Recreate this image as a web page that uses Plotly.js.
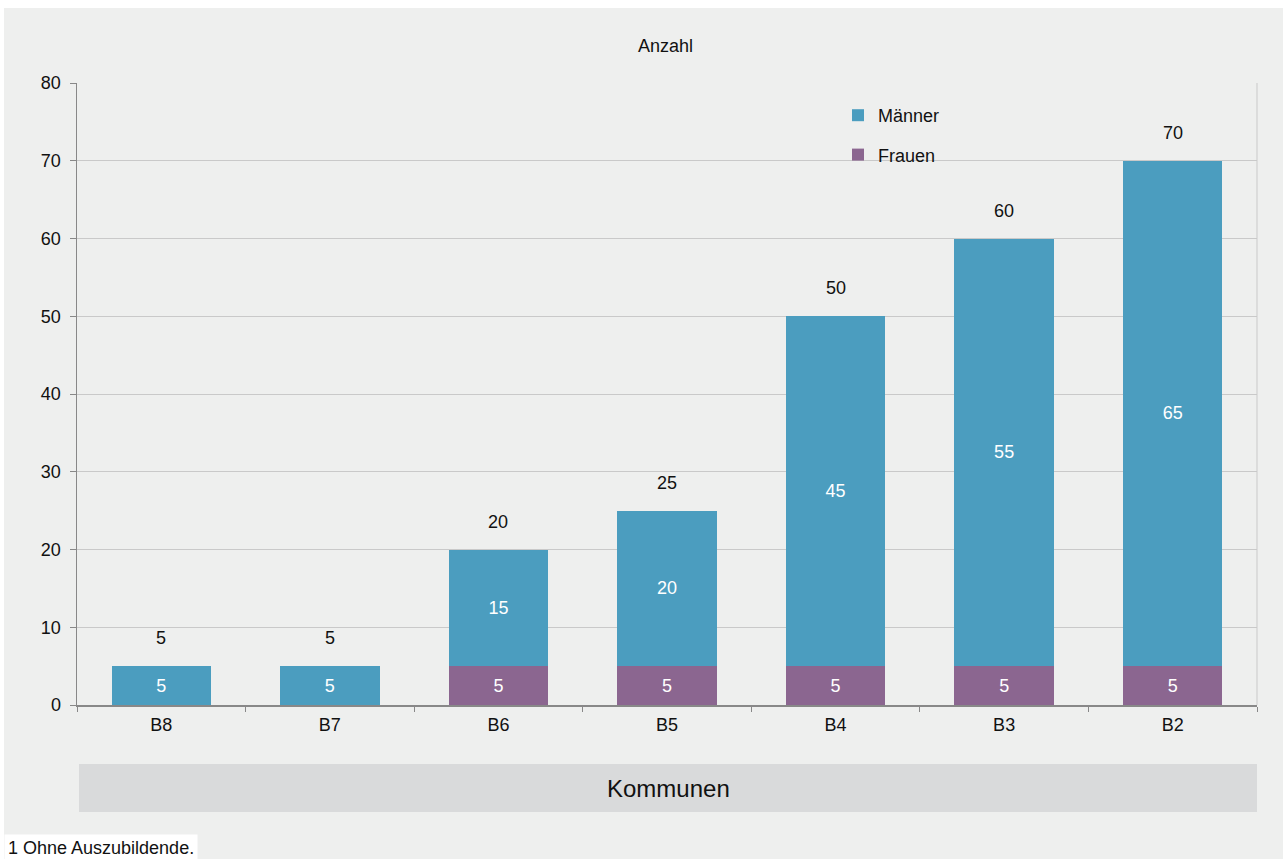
<!DOCTYPE html>
<html>
<head>
<meta charset="utf-8">
<script src="https://cdn.plot.ly/plotly-3.0.1.min.js"></script>
<style>html,body{margin:0;padding:0;background:#fff;}</style>
</head>
<body>
<div id="chart" style="width:1283px;height:859px;"></div>
<script>
const categories = ["B8", "B7", "B6", "B5", "B4", "B3", "B2"];
const frauen = [0, 0, 5, 5, 5, 5, 5];
const maenner = [5, 5, 15, 20, 45, 55, 65];
const yTicks = [0, 10, 20, 30, 40, 50, 60, 70, 80];

const totals = categories.map((c, i) => frauen[i] + maenner[i]);
const BG = '#eeefee';
const FONT = 'Liberation Sans, Arial, sans-serif';

const traces = [
  {
    type: 'bar', name: 'Frauen', x: categories, y: frauen,
    marker: {color: '#8b6690', line: {width: 0}},
    text: frauen.map(v => v ? String(v) : ''),
    textposition: 'inside', insidetextanchor: 'middle',
    textfont: {color: '#ffffff', size: 18, family: FONT},
    legendgroup: 'f', legendrank: 2, hoverinfo: 'x+y+name'
  },
  {
    type: 'bar', name: 'Männer', x: categories, y: maenner,
    marker: {color: '#4b9dbf', line: {width: 0}},
    text: maenner.map(v => v ? String(v) : ''),
    textposition: 'inside', insidetextanchor: 'middle',
    textfont: {color: '#ffffff', size: 18, family: FONT},
    legendgroup: 'm', legendrank: 1, hoverinfo: 'x+y+name'
  }
];

const annotations = categories.map((c, i) => ({
  x: c, y: totals[i], xref: 'x', yref: 'y',
  text: String(totals[i]), showarrow: false,
  yanchor: 'middle', yshift: 28,
  font: {size: 18, color: '#111', family: FONT}
}));

annotations.push({
  xref: 'paper', yref: 'paper', x: (665 - 77) / 1180, y: 1.0, yshift: 37,
  text: 'Anzahl', showarrow: false, xanchor: 'center', yanchor: 'middle',
  font: {size: 18, color: '#111', family: FONT}
});
annotations.push({
  xref: 'paper', yref: 'paper', x: (668 - 77) / 1180, y: (705 - 788) / 622,
  text: 'Kommunen', showarrow: false, xanchor: 'center', yanchor: 'middle',
  font: {size: 24, color: '#111', family: FONT}
});
annotations.push({
  xref: 'paper', yref: 'paper', x: (4 - 77) / 1180, y: (705 - 848) / 622,
  text: '1 Ohne Auszubildende.', showarrow: false, xanchor: 'left', yanchor: 'middle',
  bgcolor: '#ffffff', borderpad: 3,
  font: {size: 18, color: '#111', family: FONT}
});

const layout = {
  width: 1283, height: 859,
  margin: {l: 77, r: 26, t: 83, b: 154, pad: 0},
  paper_bgcolor: '#ffffff',
  plot_bgcolor: 'rgba(0,0,0,0)',
  barmode: 'stack',
  bargap: 0.41,
  font: {family: FONT, size: 18, color: '#111'},
  showlegend: true,
  legend: {
    x: (838 - 77) / 1180, y: (705 - 97) / 622, xanchor: 'left', yanchor: 'top',
    bgcolor: 'rgba(0,0,0,0)', borderwidth: 0,
    traceorder: 'grouped', tracegroupgap: 13,
    font: {size: 18, family: FONT, color: '#111'}
  },
  xaxis: {
    type: 'category', tickson: 'boundaries', ticks: 'outside', ticklen: 5,
    tickcolor: '#888', showline: true, linecolor: '#888', linewidth: 1.5,
    showgrid: false, tickfont: {size: 18, color: '#111', family: FONT},
    ticklabelstandoff: 3,
    fixedrange: true
  },
  yaxis: {
    range: [0, 80], tickvals: yTicks, ticktext: yTicks.map(String),
    ticks: 'outside', ticklen: 6, tickcolor: '#888',
    showline: true, linecolor: '#888', linewidth: 1.5,
    showgrid: true, gridcolor: '#c9c9c9', gridwidth: 1,
    zeroline: false, tickfont: {size: 18, color: '#111', family: FONT},
    ticklabelstandoff: 5,
    fixedrange: true
  },
  shapes: [
    {type: 'rect', xref: 'paper', yref: 'paper', layer: 'below',
     x0: (4 - 77) / 1180, x1: (1283 - 77) / 1180, y0: (705 - 859) / 622, y1: (705 - 8) / 622,
     fillcolor: BG, line: {width: 0}},
    {type: 'rect', xref: 'paper', yref: 'paper', layer: 'below',
     x0: (79 - 77) / 1180, x1: 1, y0: (705 - 812) / 622, y1: (705 - 764) / 622,
     fillcolor: '#d9dadb', line: {width: 0}},
    {type: 'line', xref: 'paper', yref: 'paper', layer: 'below',
     x0: 1, x1: 1, y0: 0, y1: 1, line: {color: '#c9c9c9', width: 1}},
    {type: 'rect', xref: 'paper', yref: 'paper', layer: 'between',
     x0: (838 - 77) / 1180, x1: (965 - 77) / 1180, y0: (705 - 172) / 622, y1: (705 - 97) / 622,
     fillcolor: BG, line: {width: 0}}
  ],
  annotations: annotations
};

Plotly.newPlot('chart', traces, layout, {displayModeBar: false, staticPlot: true});
</script>
</body>
</html>
